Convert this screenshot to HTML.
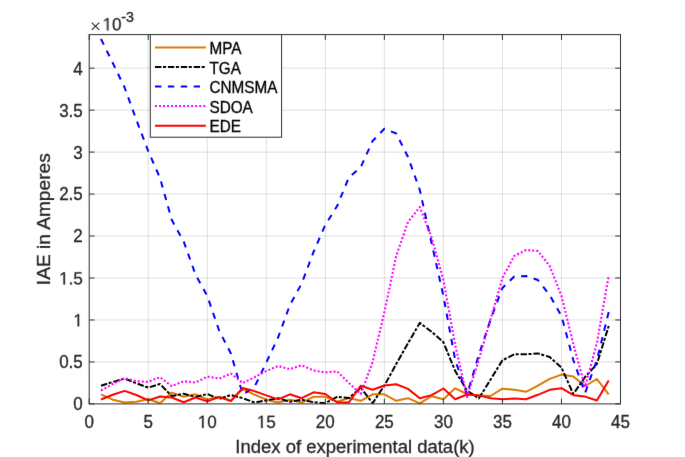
<!DOCTYPE html>
<html><head><meta charset="utf-8"><style>
html,body{margin:0;padding:0;background:#fff;}
svg{display:block;}

text{font-family:"Liberation Sans",sans-serif;fill:#262626;stroke:#262626;stroke-width:0.3px;}
.gp path{stroke:#262626;stroke-width:0.3px;vector-effect:non-scaling-stroke;}
</style></head><body>
<svg width="685" height="457" viewBox="0 0 685 457">
<defs><filter id="bl" x="0" y="0" width="685" height="457" filterUnits="userSpaceOnUse" color-interpolation-filters="sRGB"><feConvolveMatrix order="3" kernelMatrix="0.0028 0.0470 0.0028 0.0470 0.8008 0.0470 0.0028 0.0470 0.0028" edgeMode="duplicate" preserveAlpha="true"/></filter><filter id="bt" x="0" y="0" width="685" height="457" filterUnits="userSpaceOnUse" color-interpolation-filters="sRGB"><feConvolveMatrix order="3" kernelMatrix="0.0052 0.0619 0.0052 0.0619 0.7314 0.0619 0.0052 0.0619 0.0052" edgeMode="none"/></filter></defs>
<g filter="url(#bl)">
<rect width="685" height="457" fill="#fff"/>
<g stroke="#262626" stroke-opacity="0.145" stroke-width="1" fill="none">
<line x1="148.23" y1="34.6" x2="148.23" y2="403.9"/>
<line x1="207.27" y1="34.6" x2="207.27" y2="403.9"/>
<line x1="266.30" y1="34.6" x2="266.30" y2="403.9"/>
<line x1="325.33" y1="34.6" x2="325.33" y2="403.9"/>
<line x1="384.37" y1="34.6" x2="384.37" y2="403.9"/>
<line x1="443.40" y1="34.6" x2="443.40" y2="403.9"/>
<line x1="502.43" y1="34.6" x2="502.43" y2="403.9"/>
<line x1="561.47" y1="34.6" x2="561.47" y2="403.9"/>
<line x1="89.2" y1="361.93" x2="620.5" y2="361.93"/>
<line x1="89.2" y1="319.97" x2="620.5" y2="319.97"/>
<line x1="89.2" y1="278.00" x2="620.5" y2="278.00"/>
<line x1="89.2" y1="236.04" x2="620.5" y2="236.04"/>
<line x1="89.2" y1="194.07" x2="620.5" y2="194.07"/>
<line x1="89.2" y1="152.10" x2="620.5" y2="152.10"/>
<line x1="89.2" y1="110.14" x2="620.5" y2="110.14"/>
<line x1="89.2" y1="68.17" x2="620.5" y2="68.17"/>
</g>
<g fill="none" stroke-width="2.0" stroke-linejoin="round">
<polyline points="101.0,394.4 112.8,399.7 124.6,402.5 136.4,401.8 148.2,399.0 160.0,403.2 171.8,392.6 183.7,396.8 195.5,394.3 207.3,399.5 219.1,396.8 230.9,400.4 242.7,389.0 254.5,394.7 266.3,399.7 278.1,402.5 289.9,399.7 301.7,402.5 313.5,396.8 325.3,396.8 337.1,401.8 348.9,398.0 360.8,400.8 372.6,394.3 384.4,394.3 396.2,400.8 408.0,398.2 419.8,403.4 431.6,396.2 443.4,399.3 455.2,388.3 467.0,394.0 478.8,395.4 490.6,396.0 502.4,388.7 514.2,389.8 526.0,391.8 537.9,385.7 549.7,378.9 561.5,374.6 573.3,376.5 585.1,386.0 596.9,379.0 608.7,394.3" stroke="#dc7a00"/>
<polyline points="101.0,385.7 112.8,382.0 124.6,378.6 136.4,383.3 148.2,387.6 160.0,384.0 171.8,396.1 183.7,393.7 195.5,397.0 207.3,394.0 219.1,399.0 230.9,395.0 242.7,398.2 254.5,402.5 266.3,400.4 278.1,398.2 289.9,401.8 301.7,399.7 313.5,402.2 325.3,403.2 337.1,396.8 348.9,398.0 360.8,387.8 372.6,403.2 384.4,385.5 396.2,364.1 408.0,343.2 419.8,322.9 431.6,331.8 443.4,342.2 455.2,371.0 467.0,390.5 478.8,398.5 490.6,379.5 502.4,360.3 514.2,354.3 526.0,354.3 537.9,353.4 549.7,357.0 561.5,367.7 573.3,394.0 585.1,377.0 596.9,364.0 608.7,326.0" stroke="#000" stroke-dasharray="6.4,1.6,3.0,1.9"/>
<polyline points="101.0,39.0 112.8,63.0 124.6,87.5 136.4,120.0 148.2,151.0 160.0,178.0 171.8,220.0 183.7,241.5 195.5,274.5 207.3,296.0 219.1,330.5 230.9,353.5 242.7,394.5 254.5,387.0 266.3,362.5 278.1,337.5 289.9,305.0 301.7,283.5 313.5,252.0 325.3,225.0 337.1,206.0 348.9,177.5 360.8,167.0 372.6,141.0 384.4,128.8 396.2,133.5 408.0,157.0 419.8,190.0 431.6,243.0 443.4,296.0 455.2,360.0 467.0,394.5 478.8,355.0 490.6,319.5 502.4,288.0 514.2,276.5 526.0,276.0 537.9,280.0 549.7,295.0 561.5,316.0 573.3,360.0 585.1,393.0 596.9,360.0 608.7,312.0" stroke="#0000ff" stroke-dasharray="6.3,6.6"/>
<polyline points="101.0,390.5 112.8,384.0 124.6,378.1 136.4,381.2 148.2,381.9 160.0,377.2 171.8,386.2 183.7,381.2 195.5,382.6 207.3,376.6 219.1,378.6 230.9,373.5 242.7,383.0 254.5,377.2 266.3,371.0 278.1,366.0 289.9,369.1 301.7,365.3 313.5,370.5 325.3,372.4 337.1,371.3 348.9,383.0 360.8,394.0 372.6,362.0 384.4,312.0 396.2,256.0 408.0,222.0 419.8,207.0 431.6,237.5 443.4,280.0 455.2,345.0 467.0,397.0 478.8,360.0 490.6,319.0 502.4,278.0 514.2,256.0 526.0,250.0 537.9,251.0 549.7,266.0 561.5,296.0 573.3,344.0 585.1,387.0 596.9,343.0 608.7,276.0" stroke="#ff00ff" stroke-dasharray="2.0,2.02" stroke-width="2.1"/>
<polyline points="101.0,399.5 112.8,394.7 124.6,390.9 136.4,395.0 148.2,400.4 160.0,396.5 171.8,397.5 183.7,402.2 195.5,397.5 207.3,401.4 219.1,397.1 230.9,401.1 242.7,388.0 254.5,391.1 266.3,395.4 278.1,399.4 289.9,394.3 301.7,398.2 313.5,392.3 325.3,394.0 337.1,402.2 348.9,402.5 360.8,385.7 372.6,389.7 384.4,385.5 396.2,384.3 408.0,388.9 419.8,398.2 431.6,395.1 443.4,388.5 455.2,399.2 467.0,394.5 478.8,395.4 490.6,398.2 502.4,399.2 514.2,398.5 526.0,399.3 537.9,394.8 549.7,389.8 561.5,388.2 573.3,395.2 585.1,396.6 596.9,400.5 608.7,380.5" stroke="#ff0000"/>
</g>
<g stroke="#303030" stroke-width="1.0" fill="none">
<line x1="89.20" y1="403.9" x2="89.20" y2="398.59999999999997"/>
<line x1="89.20" y1="34.6" x2="89.20" y2="39.9"/>
<line x1="148.23" y1="403.9" x2="148.23" y2="398.59999999999997"/>
<line x1="148.23" y1="34.6" x2="148.23" y2="39.9"/>
<line x1="207.27" y1="403.9" x2="207.27" y2="398.59999999999997"/>
<line x1="207.27" y1="34.6" x2="207.27" y2="39.9"/>
<line x1="266.30" y1="403.9" x2="266.30" y2="398.59999999999997"/>
<line x1="266.30" y1="34.6" x2="266.30" y2="39.9"/>
<line x1="325.33" y1="403.9" x2="325.33" y2="398.59999999999997"/>
<line x1="325.33" y1="34.6" x2="325.33" y2="39.9"/>
<line x1="384.37" y1="403.9" x2="384.37" y2="398.59999999999997"/>
<line x1="384.37" y1="34.6" x2="384.37" y2="39.9"/>
<line x1="443.40" y1="403.9" x2="443.40" y2="398.59999999999997"/>
<line x1="443.40" y1="34.6" x2="443.40" y2="39.9"/>
<line x1="502.43" y1="403.9" x2="502.43" y2="398.59999999999997"/>
<line x1="502.43" y1="34.6" x2="502.43" y2="39.9"/>
<line x1="561.47" y1="403.9" x2="561.47" y2="398.59999999999997"/>
<line x1="561.47" y1="34.6" x2="561.47" y2="39.9"/>
<line x1="620.50" y1="403.9" x2="620.50" y2="398.59999999999997"/>
<line x1="620.50" y1="34.6" x2="620.50" y2="39.9"/>
<line x1="89.2" y1="403.90" x2="94.5" y2="403.90"/>
<line x1="620.5" y1="403.90" x2="615.2" y2="403.90"/>
<line x1="89.2" y1="361.93" x2="94.5" y2="361.93"/>
<line x1="620.5" y1="361.93" x2="615.2" y2="361.93"/>
<line x1="89.2" y1="319.97" x2="94.5" y2="319.97"/>
<line x1="620.5" y1="319.97" x2="615.2" y2="319.97"/>
<line x1="89.2" y1="278.00" x2="94.5" y2="278.00"/>
<line x1="620.5" y1="278.00" x2="615.2" y2="278.00"/>
<line x1="89.2" y1="236.04" x2="94.5" y2="236.04"/>
<line x1="620.5" y1="236.04" x2="615.2" y2="236.04"/>
<line x1="89.2" y1="194.07" x2="94.5" y2="194.07"/>
<line x1="620.5" y1="194.07" x2="615.2" y2="194.07"/>
<line x1="89.2" y1="152.10" x2="94.5" y2="152.10"/>
<line x1="620.5" y1="152.10" x2="615.2" y2="152.10"/>
<line x1="89.2" y1="110.14" x2="94.5" y2="110.14"/>
<line x1="620.5" y1="110.14" x2="615.2" y2="110.14"/>
<line x1="89.2" y1="68.17" x2="94.5" y2="68.17"/>
<line x1="620.5" y1="68.17" x2="615.2" y2="68.17"/>
<rect x="89.2" y="34.6" width="531.30" height="369.30"/>
</g>
<rect x="150.3" y="34.6" width="131.3" height="102.6" fill="#fff" stroke="#303030" stroke-width="1.0"/>
<line x1="155" y1="47.45" x2="205.8" y2="47.45" stroke="#dc7a00" stroke-width="2.0"/>
<line x1="155" y1="67.1" x2="205.8" y2="67.1" stroke="#000000" stroke-width="2.0" stroke-dasharray="6.4,1.6,3.0,1.9"/>
<line x1="155" y1="86.6" x2="205.8" y2="86.6" stroke="#0000ff" stroke-width="2.0" stroke-dasharray="6.3,6.6"/>
<line x1="155" y1="106.05" x2="205.8" y2="106.05" stroke="#ff00ff" stroke-width="2.0" stroke-dasharray="2.0,2.02"/>
<line x1="155" y1="125.75" x2="205.8" y2="125.75" stroke="#ff0000" stroke-width="2.0"/>
<path d="M91.7,22.6L99.3,29.8M99.3,22.6L91.7,29.8" stroke="#262626" stroke-width="1.05" fill="none"/>
</g>
<g filter="url(#bt)">
<g font-size="17">
<text transform="translate(89.20,427.9) scale(1,1.035)" text-anchor="middle">0</text>
<text transform="translate(148.23,427.9) scale(1,1.035)" text-anchor="middle">5</text>
<g class="gp" transform="translate(207.27,427.90) scale(0.008301,-0.008591)" fill="#262626"><path transform="translate(-1139,0)" d="M515 0V1237L197 1010V1180L530 1409H696V0Z"/><path transform="translate(0,0)" d="M1059 705Q1059 352 934.5 166.0Q810 -20 567 -20Q324 -20 202.0 165.0Q80 350 80 705Q80 1068 198.5 1249.0Q317 1430 573 1430Q822 1430 940.5 1247.0Q1059 1064 1059 705ZM876 705Q876 1010 805.5 1147.0Q735 1284 573 1284Q407 1284 334.5 1149.0Q262 1014 262 705Q262 405 335.5 266.0Q409 127 569 127Q728 127 802.0 269.0Q876 411 876 705Z"/></g>
<g class="gp" transform="translate(266.30,427.90) scale(0.008301,-0.008591)" fill="#262626"><path transform="translate(-1139,0)" d="M515 0V1237L197 1010V1180L530 1409H696V0Z"/><path transform="translate(0,0)" d="M1053 459Q1053 236 920.5 108.0Q788 -20 553 -20Q356 -20 235.0 66.0Q114 152 82 315L264 336Q321 127 557 127Q702 127 784.0 214.5Q866 302 866 455Q866 588 783.5 670.0Q701 752 561 752Q488 752 425.0 729.0Q362 706 299 651H123L170 1409H971V1256H334L307 809Q424 899 598 899Q806 899 929.5 777.0Q1053 655 1053 459Z"/></g>
<text transform="translate(325.33,427.9) scale(1,1.035)" text-anchor="middle">20</text>
<text transform="translate(384.37,427.9) scale(1,1.035)" text-anchor="middle">25</text>
<text transform="translate(443.40,427.9) scale(1,1.035)" text-anchor="middle">30</text>
<text transform="translate(502.43,427.9) scale(1,1.035)" text-anchor="middle">35</text>
<text transform="translate(561.47,427.9) scale(1,1.035)" text-anchor="middle">40</text>
<text transform="translate(620.50,427.9) scale(1,1.035)" text-anchor="middle">45</text>
<text transform="translate(82.8,410.30) scale(1,1.035)" text-anchor="end">0</text>
<text transform="translate(82.8,368.33) scale(1,1.035)" text-anchor="end">0.5</text>
<g class="gp" transform="translate(82.80,326.37) scale(0.008301,-0.008591)" fill="#262626"><path transform="translate(-1139,0)" d="M515 0V1237L197 1010V1180L530 1409H696V0Z"/></g>
<g class="gp" transform="translate(82.80,284.40) scale(0.008301,-0.008591)" fill="#262626"><path transform="translate(-2847,0)" d="M515 0V1237L197 1010V1180L530 1409H696V0Z"/><path transform="translate(-1708,0)" d="M187 0V219H382V0Z"/><path transform="translate(-1139,0)" d="M1053 459Q1053 236 920.5 108.0Q788 -20 553 -20Q356 -20 235.0 66.0Q114 152 82 315L264 336Q321 127 557 127Q702 127 784.0 214.5Q866 302 866 455Q866 588 783.5 670.0Q701 752 561 752Q488 752 425.0 729.0Q362 706 299 651H123L170 1409H971V1256H334L307 809Q424 899 598 899Q806 899 929.5 777.0Q1053 655 1053 459Z"/></g>
<text transform="translate(82.8,242.44) scale(1,1.035)" text-anchor="end">2</text>
<text transform="translate(82.8,200.47) scale(1,1.035)" text-anchor="end">2.5</text>
<text transform="translate(82.8,158.50) scale(1,1.035)" text-anchor="end">3</text>
<text transform="translate(82.8,116.54) scale(1,1.035)" text-anchor="end">3.5</text>
<text transform="translate(82.8,74.57) scale(1,1.035)" text-anchor="end">4</text>
</g>
<text transform="translate(355,453.0) scale(1,1.035)" font-size="18.5" text-anchor="middle">Index of experimental data(k)</text>
<text transform="translate(49.6,219.2) rotate(-90) scale(1.035,1)" font-size="18.5" text-anchor="middle">IAE in Amperes</text>
<g class="gp" transform="translate(102.60,30.30) scale(0.008301,-0.008591)" fill="#262626"><path transform="translate(0,0)" d="M515 0V1237L197 1010V1180L530 1409H696V0Z"/><path transform="translate(1139,0)" d="M1059 705Q1059 352 934.5 166.0Q810 -20 567 -20Q324 -20 202.0 165.0Q80 350 80 705Q80 1068 198.5 1249.0Q317 1430 573 1430Q822 1430 940.5 1247.0Q1059 1064 1059 705ZM876 705Q876 1010 805.5 1147.0Q735 1284 573 1284Q407 1284 334.5 1149.0Q262 1014 262 705Q262 405 335.5 266.0Q409 127 569 127Q728 127 802.0 269.0Q876 411 876 705Z"/></g>
<text transform="translate(121.2,22.2) scale(1,1.035)" font-size="14.3">-3</text>
<g font-size="15.3" fill="#000">
<text transform="translate(209.5,54.15) scale(1,1.03)" style="fill:#000;stroke:#000">MPA</text>
<text transform="translate(209.5,73.70) scale(1,1.03)" style="fill:#000;stroke:#000">TGA</text>
<text transform="translate(209.5,93.25) scale(1,1.03)" style="fill:#000;stroke:#000">CNMSMA</text>
<text transform="translate(209.5,112.80) scale(1,1.03)" style="fill:#000;stroke:#000">SDOA</text>
<text transform="translate(209.5,132.35) scale(1,1.03)" style="fill:#000;stroke:#000">EDE</text>
</g>
</g>
</svg>
</body></html>
